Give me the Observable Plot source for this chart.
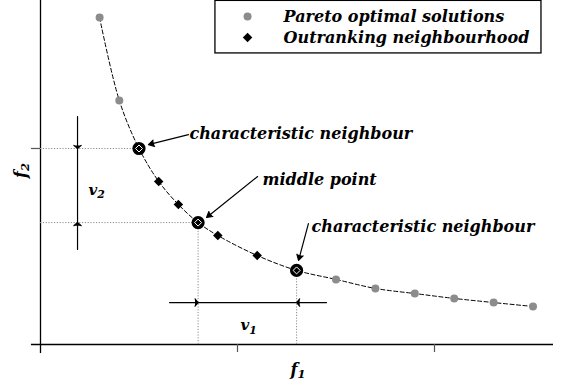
<!DOCTYPE html>
<html><head><meta charset="utf-8">
<script src="https://cdn.jsdelivr.net/npm/d3@7"></script>
<script src="https://cdn.jsdelivr.net/npm/@observablehq/plot@0.6"></script>
<style>
body{margin:0;background:#fff}
svg text{font-family:"DejaVu Serif","Liberation Serif",serif;font-weight:bold;font-style:italic}
</style>
</head><body><div id="chart"></div>
<script>
// ---- data ----
const f1 = [0.3, 0.4, 0.5, 0.6, 0.7, 0.8, 0.9, 1.1, 1.3, 1.5, 1.7, 1.9, 2.1, 2.3, 2.5];
const f2 = [1.668, 1.245, 1.0, 0.832, 0.714, 0.622, 0.556, 0.454, 0.378, 0.332, 0.286, 0.260, 0.235, 0.214, 0.194];
// P = Pareto optimal, O = outranking neighbourhood, C = characteristic neighbour, M = middle point
const kind = ["P", "P", "C", "O", "O", "M", "O", "O", "C", "P", "P", "P", "P", "P", "P"];
const legendLabels = ["Pareto optimal solutions", "Outranking neighbourhood"];
const annotationLabels = ["characteristic neighbour", "middle point", "characteristic neighbour"];
const xTicks = [1, 2];
const yTicks = [1];
const axisLabels = ["f_1", "f_2"];
const rangeLabels = ["v_1", "v_2"];

const pts = f1.map((x, i) => ({f1: x, f2: f2[i], kind: kind[i]}));
const pareto = pts.filter(d => d.kind === "P");
const outrank = pts.filter(d => d.kind !== "P");
const rings = pts.filter(d => d.kind === "C" || d.kind === "M");
const mid = pts.find(d => d.kind === "M");
const [cn1, cn2] = pts.filter(d => d.kind === "C");

const GRAY = "#8c8c8c";
const font = {fontFamily: "DejaVu Serif", fontWeight: "bold", fontStyle: "italic", fontSize: 16};
const diamondSq = {draw(ctx, size) {const r = Math.sqrt(size / 2); ctx.moveTo(0, -r); ctx.lineTo(r, 0); ctx.lineTo(0, r); ctx.lineTo(-r, 0); ctx.closePath();}};
const dotted = {stroke: GRAY, strokeWidth: 1, strokeDasharray: "1.2,1.6"};

// annotation geometry (layout)
const v2x = 0.188, v1y = 0.214;
const annArrows = [
  {x1: 0.751, y1: 1.071, x2: 0.548, y2: 1.020},
  {x1: 1.102, y1: 0.857, x2: 0.843, y2: 0.648},
  {x1: 1.360, y1: 0.617, x2: 1.310, y2: 0.429}
];
const annText = [
  {x: 0.756, y: 1.077}, {x: 1.127, y: 0.842}, {x: 1.376, y: 0.602}
].map((p, i) => ({...p, label: annotationLabels[i]}));

const plot = Plot.plot({
  width: 561, height: 384,
  marginLeft: 40, marginRight: 8.8, marginTop: 0, marginBottom: 40,
  x: {domain: [0, 2.6], axis: null},
  y: {domain: [0, 1.755], axis: null},
  style: {background: "white", overflow: "visible"},
  marks: [
    // axes
    Plot.ruleY([0], {x1: -0.046, x2: 2.604, stroke: "black", strokeWidth: 1.3}),
    Plot.ruleX([0], {y1: -0.046, y2: 1.755, stroke: "black", strokeWidth: 1.3}),
    Plot.ruleX(xTicks, {y1: 0, y2: -0.041, stroke: "#555", strokeWidth: 1.2}),
    Plot.ruleY(yTicks, {x1: -0.046, x2: 0, stroke: "#555", strokeWidth: 1.2}),
    // dotted guides
    Plot.ruleY([cn1, mid], {y: "f2", x1: 0, x2: "f1", ...dotted}),
    Plot.ruleX([mid, cn2], {x: "f1", y1: 0, y2: "f2", ...dotted}),
    // dashed front curve
    Plot.line(pts, {x: "f1", y: "f2", curve: "catmull-rom", stroke: "black", strokeWidth: 1, strokeDasharray: "4,2.5"}),
    // points
    Plot.dot(pareto, {x: "f1", y: "f2", r: 4, fill: GRAY}),
    Plot.dot(outrank, {x: "f1", y: "f2", symbol: diamondSq, r: 3.8, fill: "black"}),
    Plot.dot(rings, {x: "f1", y: "f2", r: 5.3, fill: "black", stroke: "black", strokeWidth: 2.6}),
    Plot.dot(rings, {x: "f1", y: "f2", symbol: diamondSq, r: 2.8, fill: "black", stroke: "white", strokeWidth: 1}),
    // v2 range arrows
    Plot.ruleX([v2x], {y1: cn1.f2, y2: mid.f2, stroke: "black", strokeWidth: 1.2}),
    Plot.arrow([{x1: v2x, y1: 1.163, x2: v2x, y2: cn1.f2}, {x1: v2x, y1: 0.485, x2: v2x, y2: mid.f2}],
      {x1: "x1", y1: "y1", x2: "x2", y2: "y2", stroke: "black", fill: "black", strokeWidth: 1.2, headLength: 6, headAngle: 100}),
    // v1 range arrows
    Plot.ruleY([v1y], {x1: mid.f1, x2: cn2.f1, stroke: "black", strokeWidth: 1.2}),
    Plot.arrow([{x1: 0.655, y1: v1y, x2: mid.f1, y2: v1y}, {x1: 1.452, y1: v1y, x2: cn2.f1, y2: v1y}],
      {x1: "x1", y1: "y1", x2: "x2", y2: "y2", stroke: "black", fill: "black", strokeWidth: 1.2, headLength: 6, headAngle: 100}),
    // annotation arrows
    Plot.arrow(annArrows, {x1: "x1", y1: "y1", x2: "x2", y2: "y2", stroke: "black", fill: "black", strokeWidth: 1.2, headLength: 8, headAngle: 60}),
    Plot.text(annText, {x: "x", y: "y", text: "label", textAnchor: "start", ...font, fill: "black"}),
    // range labels
    Plot.text([rangeLabels[1]], {x: 0.244, y: 0.786, text: d => d, textAnchor: "start", ...font, fontSize: 15}),
    Plot.text([rangeLabels[0]], {x: 1.015, y: 0.097, text: d => d, textAnchor: "start", ...font, fontSize: 15}),
    // axis labels
    Plot.text([axisLabels[0]], {x: 1.269, y: -0.128, text: d => d, textAnchor: "start", ...font}),
    Plot.text([axisLabels[1]], {x: -0.102, y: 0.888, text: d => d, rotate: -90, ...font}),
    // legend
    Plot.rect([0], {x1: 0.888, x2: 2.543, y1: 1.485, y2: 1.753, fill: "white", stroke: "black", strokeWidth: 1.3}),
    Plot.dot([0], {x: 1.051, y: 1.673, r: 4, fill: GRAY}),
    Plot.dot([0], {x: 1.051, y: 1.566, symbol: diamondSq, r: 3.8, fill: "black"}),
    Plot.text(legendLabels, {x: 1.234, y: (d, i) => [1.673, 1.566][i], text: d => d, textAnchor: "start", ...font})
  ]
});

// subscripts: "a_b" -> a with subscript b
d3.select(plot).selectAll("text").each(function() {
  const t = this.textContent;
  if (t.includes("_")) {
    const [b, s] = t.split("_");
    this.textContent = b;
    d3.select(this).append("tspan").attr("dy", "0.3em").attr("font-size", "0.72em").text(s);
  }
});

document.getElementById("chart").appendChild(plot);
</script></body></html>
